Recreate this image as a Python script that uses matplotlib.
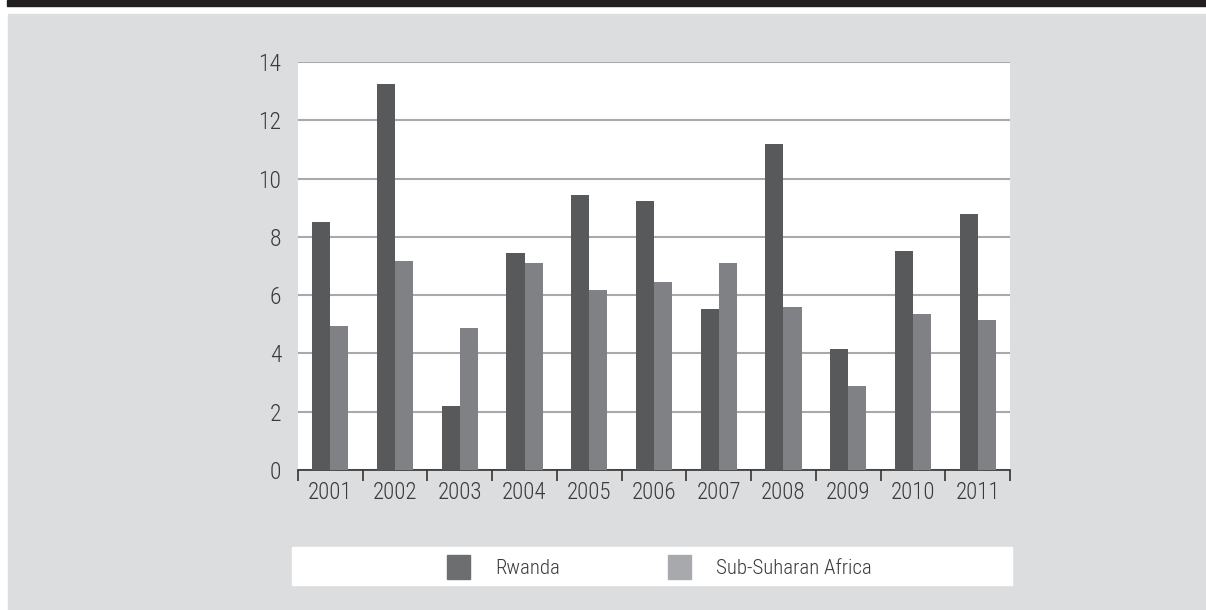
import numpy as np
import matplotlib.pyplot as plt
from matplotlib.patches import Rectangle

plt.rcParams['font.family'] = ['Liberation Sans Narrow', 'Roboto Condensed',
                               'DejaVu Sans Condensed', 'Roboto', 'DejaVu Sans']
plt.rcParams['font.weight'] = 'light'

COLOR_RW = "#58595b"
COLOR_SSA = "#808184"
COLOR_RW_LEG = "#6d6e70"
COLOR_SSA_LEG = "#a7a9ac"
COLOR_BG = "#dcdddf"
COLOR_GRID = "#a7a9ac"
COLOR_TEXT = "#3a3a3a"

years = ["2001", "2002", "2003", "2004", "2005", "2006",
         "2007", "2008", "2009", "2010", "2011"]
rwanda = [8.5, 13.25, 2.2, 7.45, 9.44, 9.23, 5.53, 11.19, 4.15, 7.52, 8.79]
ssa = [4.94, 7.17, 4.87, 7.1, 6.18, 6.45, 7.1, 5.59, 2.88, 5.35, 5.15]
series_labels = ["Rwanda", "Sub-Suharan Africa"]

W, H = 1206, 610
fig = plt.figure(figsize=(W / 100, H / 100), dpi=100)
fig.patch.set_facecolor("white")


# background panels (pixel coords from top-left -> figure fraction)
def px_rect(x0, y0, x1, y1, color):
    fig.patches.append(Rectangle((x0 / W, 1 - y1 / H), (x1 - x0) / W, (y1 - y0) / H,
                                 transform=fig.transFigure, color=color, zorder=-5))


px_rect(7, 0, W, 6, "#231f20")
px_rect(8, 14, W, H, COLOR_BG)
px_rect(292, 547, 1012, 585, "white")

ax = fig.add_axes([298 / W, 1 - 470 / H, (1010 - 298) / W, (470 - 62) / H])
ax.set_zorder(2)
ax.set_facecolor("white")

x = np.arange(len(years))
bw = 0.28
ax.bar(x - bw / 2, rwanda, width=bw, color=COLOR_RW, zorder=3)
ax.bar(x + bw / 2, ssa, width=bw, color=COLOR_SSA, zorder=3)

ax.set_xlim(-0.5, len(years) - 0.5)
ax.set_ylim(0, 14)
ax.set_yticks(np.arange(0, 15, 2))
ax.set_xticks(x)
ax.set_xticklabels(years)
ax.set_xticks(np.arange(-0.5, len(years), 1), minor=True)
ax.tick_params(axis="x", which="major", length=0, pad=8, labelsize=16.5, labelcolor=COLOR_TEXT)
ax.tick_params(axis="x", which="minor", length=8, width=1.2, color="#333333", direction="out")
ax.tick_params(axis="y", length=0, pad=12, labelsize=17, labelcolor=COLOR_TEXT)
ax.grid(axis="y", color=COLOR_GRID, linewidth=1.5, zorder=1)

for s in ["left", "right", "top"]:
    ax.spines[s].set_visible(False)
ax.spines["bottom"].set_color("#333333")
ax.spines["bottom"].set_linewidth(1.2)

# legend in the white strip below the chart
handles = [Rectangle((0, 0), 1, 1, color=COLOR_RW_LEG),
           Rectangle((0, 0), 1, 1, color=COLOR_SSA_LEG)]
leg = fig.legend(handles, series_labels, loc="center left", bbox_to_anchor=(447 / W, 1 - 567 / H),
                 ncol=2, frameon=False, fontsize=15, handlelength=1.1, handleheight=1.4,
                 handletextpad=1.2, columnspacing=5.2, borderpad=0, borderaxespad=0,
                 labelcolor=COLOR_TEXT)
leg.set_zorder(3)

fig.savefig("out.png", dpi=100)
